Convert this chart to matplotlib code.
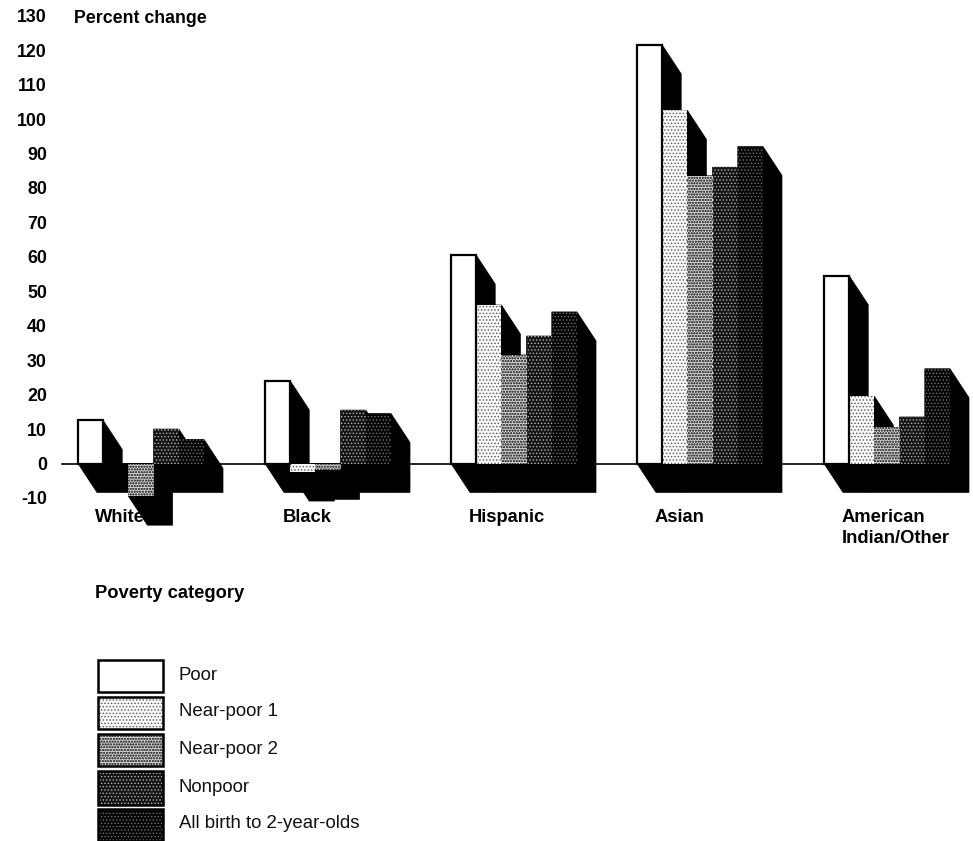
import matplotlib
matplotlib.use("Agg")
import matplotlib.pyplot as plt
from matplotlib.patches import Polygon, Rectangle

plt.rcParams['font.family'] = ['Liberation Sans', 'DejaVu Sans']
plt.rcParams['hatch.linewidth'] = 0.6

categories = ['White', 'Black', 'Hispanic', 'Asian', 'American\nIndian/Other']
series = ['Poor', 'Near-poor 1', 'Near-poor 2', 'Nonpoor', 'All birth to 2-year-olds']
poor = [12.5, 24, 60.5, 121.5, 54.5]
near_poor_1 = [0, -2.5, 46, 102.5, 19.5]
near_poor_2 = [-9.5, -2, 31.5, 83.5, 10.5]
nonpoor = [10, 15.5, 37, 86, 13.5]
all_children = [7, 14.5, 44, 92, 27.5]
y_ticks = list(range(-10, 131, 10))

values = [poor, near_poor_1, near_poor_2, nonpoor, all_children]
group_left = [78, 265, 451, 637, 824]
label_left = [95, 283, 469, 655, 842]
bar_w = 25.2
depth_x = 19
depth_y = 8.4
styles = [
    dict(facecolor='white', hatch=None, edgecolor='black'),
    dict(facecolor='#f8f8f8', hatch='.....', edgecolor='#555555'),
    dict(facecolor='#d2d2d2', hatch='oooooo', edgecolor='#4a4a4a'),
    dict(facecolor='#141414', hatch='.....', edgecolor='#b4b4b4'),
    dict(facecolor='#050505', hatch='.....', edgecolor='#707070'),
]

W, H = 973, 841
fig = plt.figure(figsize=(W / 100, H / 100), dpi=100, facecolor='white')
px_unit = 3.445
y0 = 463.5
top_py, bot_py = 10, 506
left_px = 62
ax = fig.add_axes([left_px / W, 1 - bot_py / H, (W - left_px) / W, (bot_py - top_py) / H])
ax.set_xlim(left_px, W)
ax.set_ylim((y0 - bot_py) / px_unit, (y0 - top_py) / px_unit)
for s in ax.spines.values():
    s.set_visible(False)
ax.set_yticks(y_ticks)
ax.set_yticklabels([str(t) for t in y_ticks], fontweight='bold', fontsize=12.8)
ax.set_xticks(label_left)
ax.set_xticklabels(categories, fontweight='bold', fontsize=13.2, ha='left', linespacing=1.35)
ax.tick_params(axis='both', length=0, colors='black')
ax.tick_params(axis='y', pad=10.8)
ax.tick_params(axis='x', pad=2)

ax.plot([left_px, 830], [0, 0], color='black', lw=1.2, zorder=1, clip_on=False)

for g, left in enumerate(group_left):
    for i, vals in enumerate(values):
        v = vals[g]
        x0 = left + i * bar_w
        x1 = x0 + bar_w
        if v >= 0:
            pts = [(x0, 0), (x0, v), (x1, v), (x1 + depth_x, v - depth_y),
                   (x1 + depth_x, -depth_y), (x0 + depth_x, -depth_y)]
        else:
            pts = [(x0, 0), (x1, 0), (x1 + depth_x, -depth_y), (x1 + depth_x, v - depth_y),
                   (x0 + depth_x, v - depth_y), (x0, v)]
        ax.add_patch(Polygon(pts, closed=True, facecolor='black', edgecolor='black',
                             lw=0.5, zorder=2, clip_on=False))

for g, left in enumerate(group_left):
    for i, vals in enumerate(values):
        v = vals[g]
        if v == 0:
            continue
        x0 = left + i * bar_w
        st = styles[i]
        ax.add_patch(Rectangle((x0, 0), bar_w, v, facecolor=st['facecolor'], hatch=st['hatch'],
                               edgecolor=st['edgecolor'], lw=0, zorder=3, clip_on=False))
        if i == 0:
            ax.add_patch(Rectangle((x0, 0), bar_w, v, fill=False, edgecolor='black',
                                   lw=1.6, zorder=4, clip_on=False))

# Overlay in pixel coordinates for titles and legend
ov = fig.add_axes([0, 0, 1, 1])
ov.set_xlim(0, W)
ov.set_ylim(H, 0)
ov.axis('off')
ov.patch.set_alpha(0)
ov.text(74, 18, 'Percent change', fontweight='bold', fontsize=12.8, va='center', ha='left')
ov.text(95, 593, 'Poverty category', fontweight='bold', fontsize=13.2, va='center', ha='left')

box_tops = [660, 697, 734, 771, 809]
box_bots = [692, 729, 766, 805, 841]
for i, name in enumerate(series):
    st = styles[i]
    ov.add_patch(Rectangle((97.5, box_tops[i]), 65, box_bots[i] - box_tops[i],
                           facecolor=st['facecolor'], hatch=st['hatch'],
                           edgecolor=st['edgecolor'], lw=0))
    ov.add_patch(Rectangle((97.5, box_tops[i]), 65, box_bots[i] - box_tops[i],
                           fill=False, edgecolor='black', lw=1.8))
    ov.text(179, (box_tops[i] + box_bots[i]) / 2 - 1, name, fontsize=13.4, va='center', ha='left',
            color='#111111')

fig.savefig('out.png', dpi=100, facecolor='white')
